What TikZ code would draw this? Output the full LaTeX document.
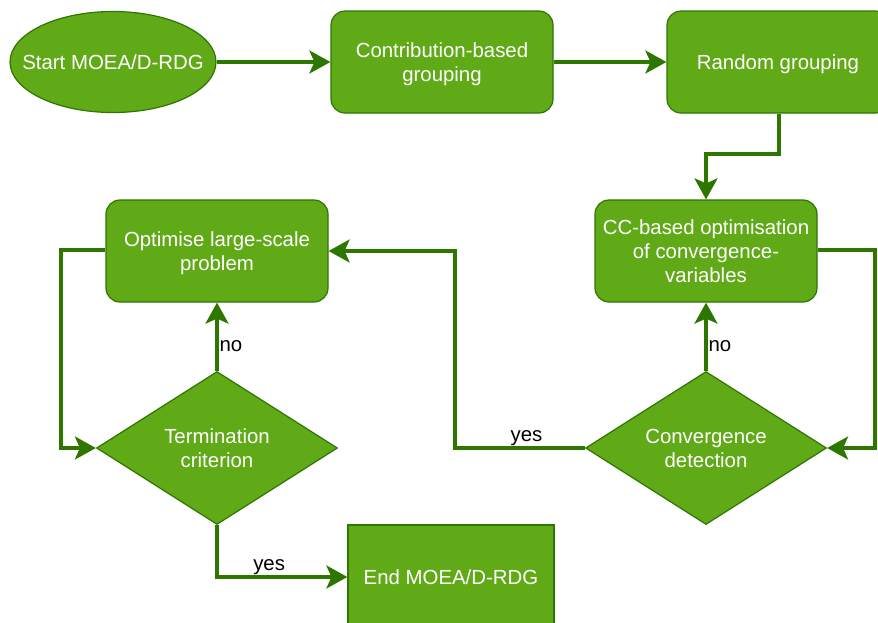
\documentclass[tikz,border=0pt]{standalone}
\usepackage{fontspec}
\setmainfont{Liberation Sans}
\usetikzlibrary{shapes.geometric,arrows.meta}
\definecolor{boxfill}{HTML}{60A917}
\definecolor{boxline}{HTML}{2D7600}
\begin{document}
\begin{tikzpicture}[x=1pt,y=-1pt,
  every node/.style={font=\fontsize{20.4}{24}\selectfont},
  base/.style={fill=boxfill,draw=boxline,line width=1.2pt,text=white,align=center,inner sep=0pt,text depth=0pt},
  roundbox/.style={base,rectangle,rounded corners=14pt,minimum width=222pt,minimum height=102pt},
  squarebox/.style={base,rectangle,minimum width=206pt,minimum height=104pt},
  startnode/.style={base,ellipse,minimum width=206pt,minimum height=101pt},
  decision/.style={base,diamond,aspect=1.575,minimum width=241pt,minimum height=153pt},
  flow/.style={draw=boxline,line width=3.2pt,-{Stealth[length=21pt,width=23pt,inset=5pt]}},
  lbl/.style={text=black,inner sep=1pt}]
\useasboundingbox (0,0) rectangle (878,622);
\clip (0,0) rectangle (878,622);

% process nodes
\node[startnode] (start) at (113,62) {\makebox[0pt]{Start MOEA/D-RDG}};
\node[roundbox] (cb) at (442,62) {Contribution-based\\grouping};
\node[roundbox] (rg) at (778,62) {Random grouping};
\node[roundbox] (cc) at (706,251) {CC-based optimisation\\of convergence-\\variables};
\node[roundbox] (opt) at (217,251) {Optimise large-scale\\problem};
\node[decision] (tc) at (217,448) {Termination\\criterion};
\node[decision] (cd) at (706,448) {Convergence\\detection};
\node[squarebox] (end) at (451,577) {End MOEA/D-RDG};

% routing points
\coordinate (k1) at (779,154);
\coordinate (k2) at (875,250);
\coordinate (k3) at (455,448);
\coordinate (k4) at (61,250);

% connectors
\draw[flow] (start) -- (cb);
\draw[flow] (cb) -- (rg);
\draw[flow] (rg.south -| k1) -- (k1) -| (cc.north);
\draw[flow] (cc.east |- k2) -- (k2) |- (cd.east);
\draw[flow] (cd.north) -- node[lbl,pos=0.37,right] {no} (cc.south);
\draw[flow] (cd.west) -- node[lbl,pos=0.45,above] {yes} (k3) |- (opt.east);
\draw[flow] (opt.west |- k4) -- (k4) |- (tc.west);
\draw[flow] (tc.north) -- node[lbl,pos=0.37,right] {no} (opt.south);
\draw[flow] (tc.south) |- node[lbl,pos=0.7,above] {yes} (end.west);
\end{tikzpicture}
\end{document}
